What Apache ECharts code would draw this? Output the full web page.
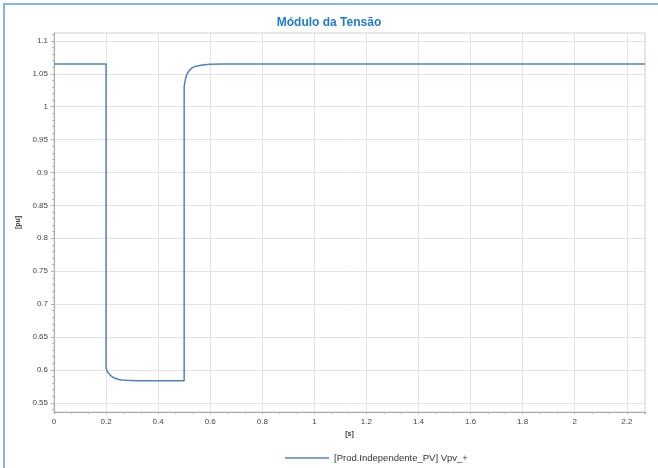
<!DOCTYPE html>
<html>
<head>
<meta charset="utf-8">
<script src="https://cdn.jsdelivr.net/npm/echarts@6/dist/echarts.min.js"></script>
<style>html,body{margin:0;padding:0;background:#fff}#c{width:658px;height:468px}</style>
</head>
<body>
<div id="c"></div>
<script>
const titleText = 'Módulo da Tensão';
const seriesName = '[Prod.Independente_PV] Vpv_+';
const timeS = [0, 0.2, 0.2, 0.205, 0.21, 0.22, 0.23, 0.24, 0.25, 0.26, 0.28, 0.3, 0.315, 0.5, 0.5, 0.505, 0.51, 0.52, 0.53, 0.54, 0.55, 0.57, 0.6, 0.65, 2.27];
const voltPu = [1.065, 1.065, 0.603, 0.597, 0.594, 0.5905, 0.588, 0.5865, 0.5855, 0.5847, 0.5842, 0.5840, 0.5835, 0.5835, 1.031, 1.042, 1.049, 1.055, 1.059, 1.061, 1.062, 1.0635, 1.0645, 1.065, 1.065];
const yTicks = [0.55, 0.6, 0.65, 0.7, 0.75, 0.8, 0.85, 0.9, 0.95, 1, 1.05, 1.1];

const chart = echarts.init(document.getElementById('c'), null, {renderer: 'canvas'});
const data = timeS.map((t, i) => [t, voltPu[i]]);
chart.setOption({
  animation: false,
  backgroundColor: '#fff',
  textStyle: {fontFamily: 'Liberation Sans, Arial, sans-serif'},
  graphic: [{type: 'rect', shape: {x: 4, y: 4, width: 720, height: 520}, style: {fill: 'none', stroke: '#5b9de3', lineWidth: 1.5}, z: 100}],
  title: {text: titleText, left: 'center', top: 12, textStyle: {fontSize: 12, fontWeight: 'bold', color: '#1f7cc9'}},
  legend: {left: 280, top: 448, itemWidth: 44, itemHeight: 1.5, icon: 'rect', itemStyle: {color: '#4f82c4'}, textStyle: {fontSize: 9.5, color: '#333'}, data: [seriesName]},
  grid: {left: 54, right: 13, top: 33, bottom: 56, show: true, borderColor: '#d0d0d0', borderWidth: 1},
  xAxis: {
    type: 'value', min: 0, max: 2.27, interval: 0.2,
    name: '[s]', nameLocation: 'middle', nameGap: 15,
    nameTextStyle: {fontSize: 7, fontWeight: 'bold', color: '#333'},
    axisLine: {show: true, lineStyle: {color: '#aaa'}},
    axisTick: {show: true, inside: false, length: 2, lineStyle: {color: '#aaa'}},
    minorTick: {show: true, splitNumber: 3, length: 2, lineStyle: {color: '#bbb'}},
    axisLabel: {fontSize: 8, color: '#444', margin: 6, showMaxLabel: false},
    splitLine: {show: true, lineStyle: {color: '#e3e3e3'}}
  },
  yAxis: {
    type: 'value', min: 0.536, max: 1.112,
    name: '[pu]', nameLocation: 'middle', nameGap: 28, nameRotate: 90,
    nameTextStyle: {fontSize: 7, fontWeight: 'bold', color: '#333'},
    axisLine: {show: true, lineStyle: {color: '#aaa'}},
    axisTick: {show: true, length: 3, customValues: yTicks, lineStyle: {color: '#aaa'}},
    minorTick: {show: true, splitNumber: 10, length: 2, lineStyle: {color: '#bbb'}},
    axisLabel: {fontSize: 8, color: '#444', margin: 6, customValues: yTicks},
    splitLine: {show: true, lineStyle: {color: '#e3e3e3'}}
  },
  series: [{
    name: seriesName, type: 'line', data: data, showSymbol: false, smooth: false,
    lineStyle: {color: '#4f82c4', width: 1.5}, itemStyle: {color: '#4f82c4'}
  }]
});
</script>
</body>
</html>
